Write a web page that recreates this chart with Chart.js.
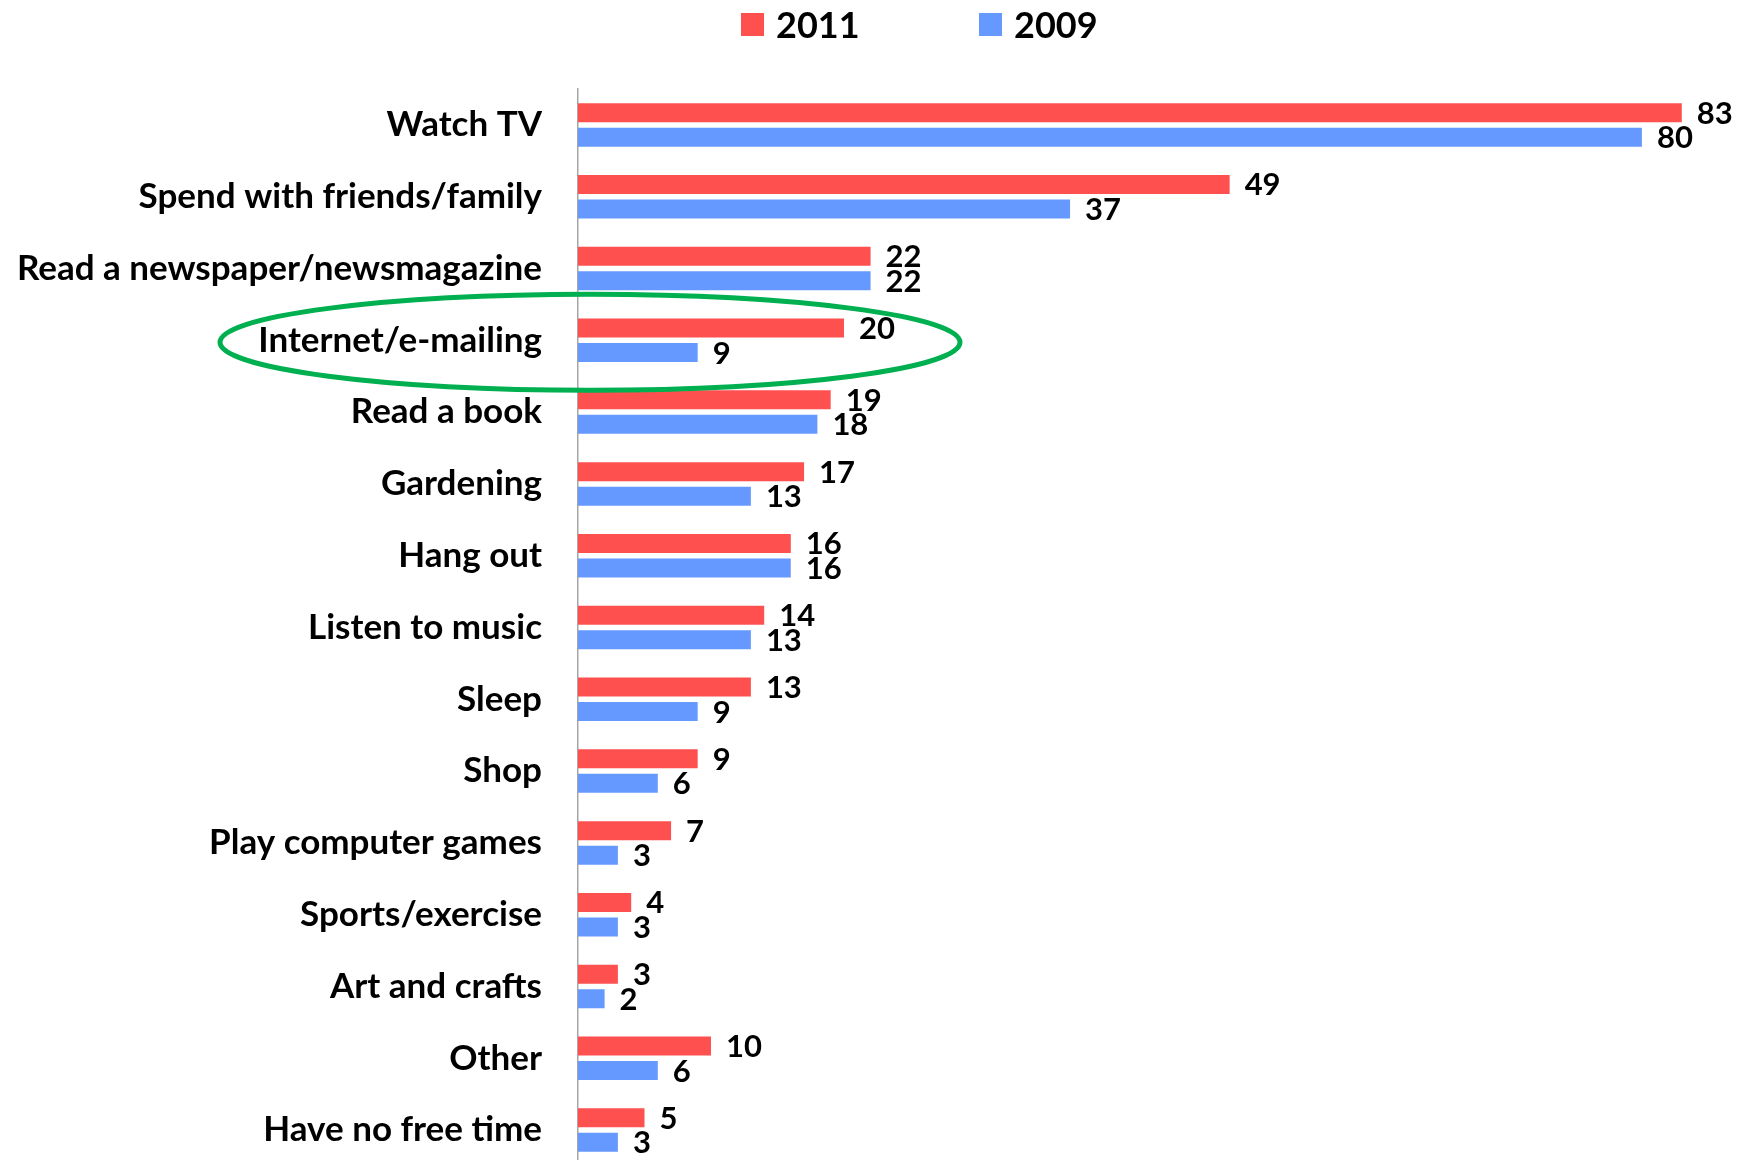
<!DOCTYPE html>
<html>
<head>
<meta charset="utf-8">
<title>Free time activities 2011 vs 2009</title>
<script src="https://cdn.jsdelivr.net/npm/chart.js@4"></script>
<style>
    html, body { margin: 0; padding: 0; background: #fff; overflow: hidden; }
    .wrap { position: absolute; left: 0; top: 0; width: 1746px; height: 1170px; }
    .legend-item {
        position: absolute; top: 5px; height: 38px;
        display: flex; align-items: center; gap: 12px;
        font-family: Lato, sans-serif; font-weight: bold; font-size: 36px; color: #000;
    }
    .legend-item .swatch { width: 23px; height: 23px; display: inline-block; }
</style>
</head>
<body>
<div class="wrap">
    <canvas id="activityChart"></canvas>
</div>
<div class="legend-item" style="left:741px"><span class="swatch" style="background:#FF5050"></span>2011</div>
<div class="legend-item" style="left:979px"><span class="swatch" style="background:#6699FF"></span>2009</div>

<script>
// ===== DATA =====
const categories = [
    'Watch TV', 'Spend with friends/family', 'Read a newspaper/newsmagazine',
    'Internet/e-mailing', 'Read a book', 'Gardening', 'Hang out', 'Listen to music',
    'Sleep', 'Shop', 'Play computer games', 'Sports/exercise', 'Art and crafts',
    'Other', 'Have no free time'
];
const values2011 = [83, 49, 22, 20, 19, 17, 16, 14, 13, 9, 7, 4, 3, 10, 5];
const values2009 = [80, 37, 22, 9, 18, 13, 16, 13, 9, 6, 3, 3, 2, 6, 3];
const highlightIndex = 3; // Internet/e-mailing gets the green ring

const RED = '#FF5050';
const BLUE = '#6699FF';

// ===== VALUE LABELS AT BAR ENDS =====
const valueLabels = {
    id: 'valueLabels',
    afterDatasetsDraw(chart) {
        const ctx = chart.ctx;
        ctx.save();
        ctx.font = 'bold 31px Lato, sans-serif';
        ctx.fillStyle = '#000';
        ctx.textAlign = 'left';
        ctx.textBaseline = 'middle';
        chart.data.datasets.forEach((ds, i) => {
            chart.getDatasetMeta(i).data.forEach((bar, j) => {
                ctx.fillText(String(ds.data[j]), bar.x + 15, bar.y + 1);
            });
        });
        ctx.restore();
    }
};

// ===== GREEN ELLIPSE =====
const highlightRing = {
    id: 'highlightRing',
    afterDraw(chart) {
        const ctx = chart.ctx;
        const cx = chart.scales.x.getPixelForValue(0) + 12;
        const cy = chart.scales.y.getPixelForValue(highlightIndex) + 2;
        ctx.save();
        ctx.beginPath();
        ctx.ellipse(cx, cy, 370, 48, 0, 0, Math.PI * 2);
        ctx.lineWidth = 5;
        ctx.strokeStyle = '#00B050';
        ctx.stroke();
        ctx.restore();
    }
};

new Chart(document.getElementById('activityChart'), {
    type: 'bar',
    data: {
        labels: categories,
        datasets: [
            { label: '2011', data: values2011, backgroundColor: RED },
            { label: '2009', data: values2009, backgroundColor: BLUE }
        ]
    },
    options: {
        indexAxis: 'y',
        responsive: true,
        maintainAspectRatio: false,
        animation: false,
        categoryPercentage: 0.683,
        barPercentage: 0.776,
        layout: { padding: { top: 89, right: 11, bottom: 4, left: 0 } },
        plugins: {
            legend: { display: false },
            tooltip: { enabled: false }
        },
        scales: {
            x: {
                display: false,
                min: 0,
                max: 87
            },
            y: {
                afterFit: function(scale) {
                    scale.width = 578;
                    scale.paddingTop = 0;
                    scale.paddingBottom = 0;
                },
                grid: { display: false },
                border: { display: true, color: '#A6A6A6', width: 1.5 },
                ticks: {
                    padding: 28,
                    color: '#000',
                    font: { family: 'Lato', weight: 'bold', size: 35 }
                }
            }
        }
    },
    plugins: [valueLabels, highlightRing]
});
</script>
</body>
</html>
